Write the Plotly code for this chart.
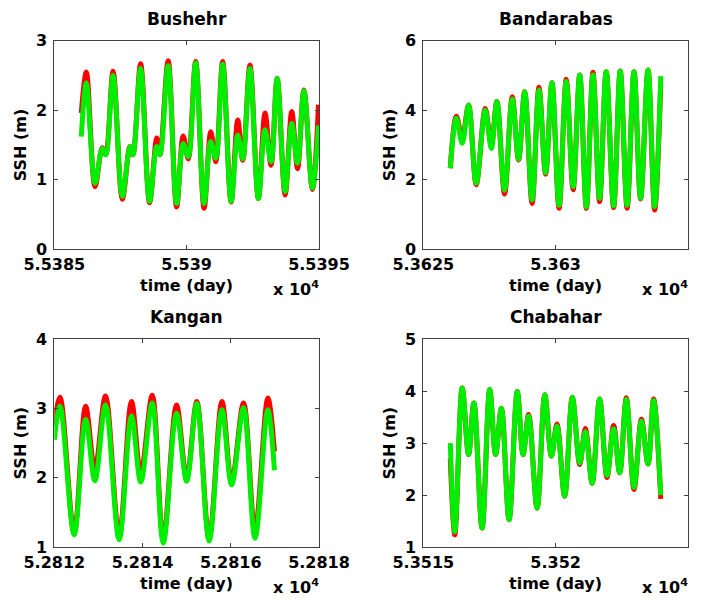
import plotly.graph_objects as go

# ---------------- data (time in days, SSH in m) ----------------
bushehr_t = [55386.02, 55386.21, 55386.54, 55386.81, 55386.94, 55387.22, 55387.57, 55387.86, 55387.97,
             55388.26, 55388.60, 55388.87, 55388.99, 55389.30, 55389.62, 55389.87, 55390.06, 55390.34,
             55390.66, 55390.91, 55391.10, 55391.36, 55391.68, 55391.93, 55392.12, 55392.39, 55392.71,
             55392.96, 55393.19, 55393.42, 55393.72, 55393.97, 55394.19, 55394.43, 55394.75, 55394.98]
bushehr_red = [1.96, 2.55, 0.90, 1.46, 1.36, 2.56, 0.72, 1.48, 1.36, 2.67, 0.67, 1.60, 1.36, 2.71, 0.61,
               1.63, 1.30, 2.70, 0.59, 1.69, 1.26, 2.70, 0.68, 1.86, 1.28, 2.65, 0.73, 1.96, 1.21, 2.46,
               0.78, 1.98, 1.16, 2.29, 0.86, 2.08]
bushehr_green = [1.62, 2.39, 0.95, 1.45, 1.36, 2.50, 0.76, 1.48, 1.36, 2.60, 0.69, 1.48, 1.36, 2.64, 0.66,
                 1.52, 1.33, 2.68, 0.66, 1.55, 1.31, 2.66, 0.69, 1.64, 1.30, 2.60, 0.73, 1.72, 1.26, 2.46,
                 0.83, 1.81, 1.24, 2.28, 0.88, 1.78]

bandarabas_t = [53626.02, 53626.25, 53626.47, 53626.71, 53627.00, 53627.34, 53627.57, 53627.78, 53628.07,
                53628.36, 53628.60, 53628.83, 53629.11, 53629.37, 53629.62, 53629.86, 53630.13, 53630.40,
                53630.66, 53630.91, 53631.16, 53631.41, 53631.66, 53631.91, 53632.19, 53632.44, 53632.70,
                53632.96, 53633.21, 53633.49, 53633.74, 53633.97]
bandarabas_red = [2.33, 3.83, 3.20, 4.15, 1.86, 4.05, 3.00, 4.25, 1.59, 4.39, 2.57, 4.53, 1.32, 4.66, 2.16,
                  4.79, 1.18, 4.89, 1.71, 5.01, 1.18, 5.09, 1.37, 5.11, 1.20, 5.13, 1.18, 5.11, 1.45, 5.16,
                  1.13, 4.78]
bandarabas_green = [2.33, 3.77, 3.05, 4.15, 1.90, 4.00, 2.90, 4.25, 1.70, 4.32, 2.59, 4.53, 1.42, 4.58, 2.20,
                    4.79, 1.27, 4.83, 1.80, 5.01, 1.22, 5.01, 1.47, 5.11, 1.25, 5.13, 1.27, 5.11, 1.47, 5.16,
                    1.23, 4.98]

kangan_t = [52812.00, 52812.13, 52812.45, 52812.71, 52812.92, 52813.16, 52813.47, 52813.75, 52813.96,
            52814.22, 52814.47, 52814.77, 52815.00, 52815.23, 52815.51, 52815.80, 52816.02, 52816.29,
            52816.55, 52816.84, 52816.99]
kangan_red = [2.76, 3.16, 1.22, 3.03, 2.12, 3.18, 1.18, 3.10, 2.07, 3.19, 1.12, 3.05, 2.00, 3.10, 1.13,
              3.10, 1.95, 3.08, 1.25, 3.15, 2.38]
kangan_green = [2.55, 3.03, 1.18, 2.84, 1.96, 3.05, 1.11, 2.89, 1.94, 3.08, 1.06, 2.93, 1.95, 3.07, 1.09,
                2.98, 1.90, 3.01, 1.13, 2.98, 2.11]

chabahar_t = [53516.02, 53516.19, 53516.47, 53516.71, 53516.91, 53517.22, 53517.51, 53517.73, 53517.95,
              53518.24, 53518.55, 53518.77, 53518.98, 53519.30, 53519.59, 53519.84, 53520.05, 53520.34,
              53520.63, 53520.91, 53521.12, 53521.38, 53521.66, 53521.94, 53522.19, 53522.42, 53522.67,
              53522.96, 53523.24, 53523.49, 53523.70, 53523.97]
chabahar_red = [2.70, 1.24, 4.06, 2.78, 3.77, 1.37, 4.03, 2.78, 3.67, 1.53, 3.99, 2.78, 3.55, 1.75, 3.93,
                2.75, 3.37, 1.98, 3.88, 2.59, 3.28, 2.23, 3.85, 2.34, 3.34, 2.43, 3.87, 2.11, 3.46, 2.60,
                3.85, 1.93]
chabahar_green = [3.00, 1.30, 4.06, 2.78, 3.77, 1.37, 4.03, 2.78, 3.67, 1.53, 3.99, 2.78, 3.52, 1.75, 3.93,
                  2.75, 3.33, 1.98, 3.88, 2.62, 3.22, 2.23, 3.85, 2.38, 3.27, 2.43, 3.84, 2.15, 3.42, 2.60,
                  3.82, 2.00]

# axis ticks
bushehr_xticks = [55385, 55390, 55395]
bushehr_xlabels = ["5.5385", "5.539", "5.5395"]
bushehr_yticks = [0, 1, 2, 3]
bandarabas_xticks = [53625, 53630, 53635]
bandarabas_xlabels = ["5.3625", "5.363", "5.3635"]
bandarabas_yticks = [0, 2, 4, 6]
kangan_xticks = [52812, 52814, 52816, 52818]
kangan_xlabels = ["5.2812", "5.2814", "5.2816", "5.2818"]
kangan_yticks = [1, 2, 3, 4]
chabahar_xticks = [53515, 53520, 53525]
chabahar_xlabels = ["5.3515", "5.352", "5.3525"]
chabahar_yticks = [1, 2, 3, 4, 5]

# page has an 8px body margin: figure is drawn inside it
OFF = 8
W, H = 718 - 2 * OFF, 606 - 2 * OFF
FONT = "DejaVu Sans"
FS = 16


def px(x):
    return (x - OFF) / W


def py(y):
    return 1 - (y - OFF) / H


panels = [
    ("Bushehr", bushehr_t, bushehr_red, bushehr_green, [55385, 55395], bushehr_xticks, bushehr_xlabels,
     [0, 3], bushehr_yticks, (54.3, 319.0, 40.7, 249.3)),
    ("Bandarabas", bandarabas_t, bandarabas_red, bandarabas_green, [53625, 53635], bandarabas_xticks,
     bandarabas_xlabels, [0, 6], bandarabas_yticks, (423.3, 688.0, 40.7, 249.3)),
    ("Kangan", kangan_t, kangan_red, kangan_green, [52812, 52818], kangan_xticks, kangan_xlabels,
     [1, 4], kangan_yticks, (54.3, 319.0, 339.0, 547.3)),
    ("Chabahar", chabahar_t, chabahar_red, chabahar_green, [53515, 53525], chabahar_xticks,
     chabahar_xlabels, [1, 5], chabahar_yticks, (423.3, 688.0, 339.0, 547.3)),
]

fig = go.Figure()
annotations = []
for i, (name, t, red, green, xr, xt, xl, yr, yt, box) in enumerate(panels):
    k = "" if i == 0 else str(i + 1)
    xa, ya = "x" + k, "y" + k
    x0, x1, y0, y1 = box
    fig.add_trace(go.Scatter(x=t, y=red, mode="lines", xaxis=xa, yaxis=ya,
                             line=dict(color="#ff0000", width=5, shape="spline", smoothing=1.0),
                             showlegend=False, hoverinfo="skip"))
    fig.add_trace(go.Scatter(x=t, y=green, mode="lines", xaxis=xa, yaxis=ya,
                             line=dict(color="#00ee00", width=5, shape="spline", smoothing=1.0),
                             showlegend=False, hoverinfo="skip"))
    common = dict(showline=True, linecolor="#404040", linewidth=1, mirror="ticks", ticks="inside",
                  ticklen=4, tickcolor="#404040", showgrid=False, zeroline=False, automargin=False,
                  tickfont=dict(family=FONT, size=FS, color="black", weight="bold"))
    fig.update_layout(**{
        "xaxis" + k: dict(domain=[px(x0), px(x1)], range=xr, tickvals=xt, ticktext=xl,
                          anchor=ya, **common),
        "yaxis" + k: dict(domain=[py(y1), py(y0)], range=yr, tickvals=yt,
                          ticktext=[str(v) for v in yt], anchor=xa, ticklabelstandoff=3, **common),
    })
    cx = (x0 + x1) / 2
    annotations.append(dict(text=name, x=px(cx), y=py(y0 - 22), xref="paper", yref="paper",
                            xanchor="center", yanchor="middle", showarrow=False,
                            font=dict(family=FONT, size=17, color="black", weight="bold")))
    annotations.append(dict(text="time (day)", x=px(cx), y=py(y1 + 36), xref="paper",
                            yref="paper", xanchor="center", yanchor="middle", showarrow=False,
                            font=dict(family=FONT, size=FS, color="black", weight="bold")))
    annotations.append(dict(text="SSH (m)", x=px(x0 - 34), y=py((y0 + y1) / 2), xref="paper",
                            yref="paper", xanchor="center", yanchor="middle", textangle=-90,
                            showarrow=False,
                            font=dict(family=FONT, size=FS, color="black", weight="bold")))
    annotations.append(dict(text="x 10<sup>4</sup>", x=px(x1 + 1), y=max(0.0, py(y1 + 51)),
                            xref="paper", yref="paper", xanchor="right", yanchor="bottom",
                            showarrow=False, borderpad=0,
                            font=dict(family=FONT, size=FS, color="black", weight="bold")))

fig.update_layout(width=W, height=H, margin=dict(l=0, r=0, t=0, b=0, autoexpand=False),
                  paper_bgcolor="white", plot_bgcolor="white", annotations=annotations)
fig.write_html("out.html")
